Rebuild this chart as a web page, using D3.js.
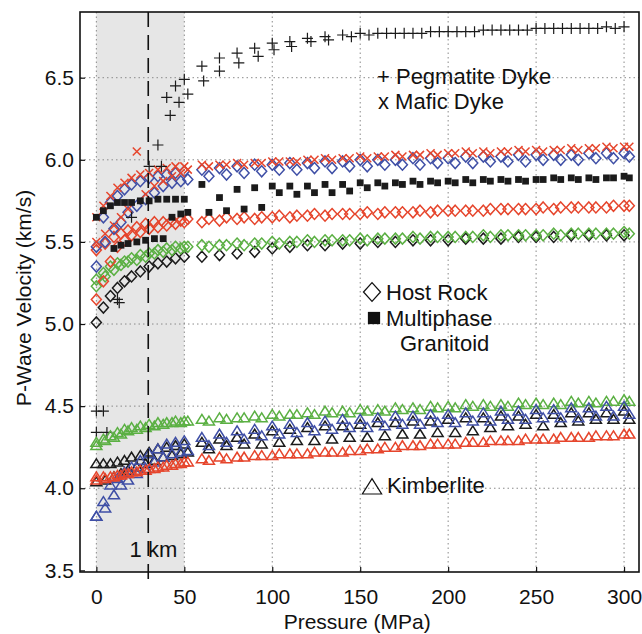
<!DOCTYPE html>
<html>
<head>
<meta charset="utf-8">
<script src="https://cdn.jsdelivr.net/npm/d3@7"></script>
<style>
  body { margin: 0; background: #fff; }
  text { font-family: 'Liberation Sans', Arial, sans-serif; fill: #111; }
</style>
</head>
<body>
<svg></svg>
<script>
'use strict'

// pressure steps (MPa), two slightly offset measurement runs
const pressA = [0, 4, 8, 12, 16, 20, 25, 30, 35, 40, 45, 50, 60, 70, 80, 90, 100, 110, 120, 130, 140, 150, 160, 170, 180, 190, 200, 210, 220, 230, 240, 250, 260, 270, 280, 290, 300]
const pressB = [0, 5, 10, 14, 18, 23, 28, 33, 38, 43, 48, 52, 64, 74, 84, 94, 104, 114, 124, 134, 144, 154, 164, 174, 184, 194, 204, 214, 224, 234, 244, 254, 264, 274, 284, 294, 303]
const pressPegA = [0, 4, 12, 30, 35, 40, 45, 50, 60, 70, 80, 90, 100, 110, 120, 130, 140, 150, 160, 170, 180, 190, 200, 210, 220, 230, 240, 250, 260, 270, 280, 290, 300]
const pressPegB = [0, 6, 13, 20, 37, 42, 47, 52, 61, 70, 81, 92, 101, 111, 122, 132, 145, 155, 165, 175, 185, 195, 205, 215, 225, 235, 245, 255, 265, 275, 285, 295]

// P-wave velocities (km/s)
const hostBlack = [5.01, 5.10, 5.17, 5.22, 5.26, 5.29, 5.32, 5.35, 5.37, 5.38, 5.40, 5.41, 5.41, 5.42, 5.43, 5.44, 5.46, 5.47, 5.48, 5.48, 5.49, 5.49, 5.50, 5.50, 5.51, 5.51, 5.51, 5.52, 5.52, 5.52, 5.53, 5.53, 5.53, 5.54, 5.54, 5.54, 5.54]
const hostGreen1 = [5.27, 5.31, 5.35, 5.37, 5.38, 5.40, 5.42, 5.43, 5.45, 5.46, 5.47, 5.47, 5.48, 5.48, 5.49, 5.49, 5.50, 5.50, 5.51, 5.51, 5.51, 5.52, 5.52, 5.52, 5.53, 5.53, 5.53, 5.53, 5.54, 5.54, 5.54, 5.54, 5.55, 5.55, 5.55, 5.55, 5.56]
const hostGreen2 = [5.23, 5.29, 5.33, 5.36, 5.38, 5.39, 5.41, 5.43, 5.44, 5.45, 5.46, 5.47, 5.47, 5.48, 5.48, 5.49, 5.49, 5.50, 5.50, 5.51, 5.51, 5.51, 5.52, 5.52, 5.52, 5.53, 5.53, 5.53, 5.53, 5.54, 5.54, 5.54, 5.54, 5.55, 5.55, 5.55, 5.55]
const hostRed1 = [5.15, 5.26, 5.38, 5.47, 5.51, 5.54, 5.56, 5.58, 5.59, 5.60, 5.61, 5.62, 5.62, 5.63, 5.64, 5.64, 5.65, 5.65, 5.66, 5.66, 5.67, 5.67, 5.67, 5.68, 5.68, 5.68, 5.69, 5.69, 5.69, 5.70, 5.70, 5.70, 5.70, 5.71, 5.71, 5.71, 5.72]
const hostRed2 = [5.45, 5.49, 5.53, 5.55, 5.57, 5.59, 5.61, 5.62, 5.62, 5.63, 5.63, 5.64, 5.64, 5.65, 5.65, 5.65, 5.66, 5.66, 5.67, 5.67, 5.67, 5.68, 5.68, 5.68, 5.69, 5.69, 5.69, 5.69, 5.70, 5.70, 5.70, 5.71, 5.71, 5.71, 5.71, 5.72, 5.72]
const hostBlue1 = [5.47, 5.65, 5.74, 5.78, 5.82, 5.85, 5.87, 5.89, 5.90, 5.91, 5.92, 5.93, 5.94, 5.95, 5.96, 5.97, 5.97, 5.98, 5.98, 5.99, 5.99, 6.00, 6.00, 6.00, 6.01, 6.01, 6.01, 6.02, 6.02, 6.02, 6.03, 6.03, 6.03, 6.03, 6.04, 6.04, 6.04]
const hostBlue2 = [5.35, 5.50, 5.58, 5.62, 5.68, 5.72, 5.76, 5.80, 5.84, 5.86, 5.87, 5.88, 5.90, 5.91, 5.92, 5.93, 5.94, 5.94, 5.95, 5.95, 5.96, 5.96, 5.97, 5.97, 5.97, 5.98, 5.98, 5.98, 5.99, 5.99, 5.99, 6.00, 6.00, 6.00, 6.01, 6.01, 6.02]
const maficA = [5.65, 5.72, 5.78, 5.83, 5.86, 5.89, 5.91, 5.92, 5.94, 5.95, 5.96, 5.96, 5.97, 5.97, 5.98, 5.98, 5.99, 5.99, 6.00, 6.01, 6.01, 6.02, 6.02, 6.03, 6.03, 6.04, 6.04, 6.05, 6.05, 6.05, 6.06, 6.06, 6.06, 6.07, 6.07, 6.08, 6.08]
const maficB = [5.50, 5.55, 5.60, 5.65, 5.70, 6.05, 5.79, 5.84, 5.87, 5.90, 5.92, 5.94, 5.96, 5.97, 5.97, 5.98, 5.99, 5.99, 6.00, 6.00, 6.01, 6.01, 6.02, 6.02, 6.03, 6.03, 6.04, 6.04, 6.04, 6.05, 6.05, 6.05, 6.06, 6.06, 6.07, 6.07, 6.08]
const granA = [5.65, 5.69, 5.72, 5.74, 5.74, 5.74, 5.75, 5.75, 5.76, 5.76, 5.76, 5.76, 5.85, 5.77, 5.82, 5.83, 5.84, 5.84, 5.84, 5.85, 5.85, 5.86, 5.86, 5.86, 5.87, 5.87, 5.87, 5.88, 5.88, 5.88, 5.88, 5.88, 5.89, 5.89, 5.89, 5.89, 5.90]
const granB = [null, null, 5.46, 5.48, 5.49, 5.50, 5.51, 5.52, 5.52, 5.65, 5.67, 5.68, 5.68, 5.69, 5.70, 5.71, 5.80, 5.79, 5.80, 5.80, 5.81, 5.83, 5.84, 5.85, 5.85, 5.86, 5.86, 5.86, 5.87, 5.87, 5.87, 5.88, 5.88, 5.88, 5.88, 5.89, 5.89]
const pegA = [4.47, 4.47, 5.15, 5.96, 6.09, 6.38, 6.45, 6.49, 6.57, 6.62, 6.65, 6.68, 6.71, 6.72, 6.74, 6.75, 6.76, 6.77, 6.77, 6.77, 6.77, 6.78, 6.78, 6.78, 6.79, 6.79, 6.79, 6.80, 6.80, 6.80, 6.80, 6.81, 6.81]
const pegB = [4.34, 4.34, 5.13, 5.65, 5.96, 6.27, 6.35, 6.40, 6.48, 6.54, 6.59, 6.63, 6.67, 6.69, 6.72, 6.73, 6.75, 6.76, 6.77, 6.77, 6.77, 6.78, 6.78, 6.78, 6.79, 6.79, 6.79, 6.80, 6.80, 6.80, 6.80, 6.80]
const kimGreen1 = [4.28, 4.30, 4.32, 4.34, 4.36, 4.37, 4.38, 4.39, 4.40, 4.40, 4.41, 4.41, 4.42, 4.43, 4.43, 4.44, 4.45, 4.45, 4.46, 4.47, 4.47, 4.48, 4.48, 4.49, 4.49, 4.50, 4.50, 4.51, 4.51, 4.51, 4.52, 4.52, 4.52, 4.53, 4.53, 4.53, 4.54]
const kimGreen2 = [4.26, 4.29, 4.31, 4.33, 4.35, 4.36, 4.37, 4.38, 4.39, 4.40, 4.40, 4.41, 4.41, 4.42, 4.43, 4.43, 4.44, 4.45, 4.45, 4.46, 4.46, 4.47, 4.47, 4.48, 4.48, 4.49, 4.49, 4.50, 4.50, 4.50, 4.51, 4.51, 4.51, 4.52, 4.52, 4.53, 4.53]
const kimBlue1 = [3.83, 3.92, 4.02, 4.06, 4.10, 4.13, 4.17, 4.21, 4.24, 4.27, 4.28, 4.29, 4.31, 4.33, 4.35, 4.36, 4.38, 4.39, 4.40, 4.41, 4.42, 4.42, 4.43, 4.44, 4.44, 4.45, 4.45, 4.46, 4.46, 4.47, 4.47, 4.48, 4.48, 4.49, 4.49, 4.50, 4.50]
const kimBlue2 = [3.83, 3.88, 3.96, 4.02, 4.05, 4.09, 4.12, 4.16, 4.19, 4.21, 4.22, 4.23, 4.26, 4.28, 4.30, 4.32, 4.33, 4.34, 4.35, 4.36, 4.37, 4.37, 4.38, 4.39, 4.39, 4.40, 4.40, 4.41, 4.41, 4.42, 4.42, 4.43, 4.43, 4.43, 4.44, 4.44, 4.45]
const kimBlack1 = [4.15, 4.15, 4.15, 4.16, 4.17, 4.19, 4.20, 4.22, 4.24, 4.25, 4.26, 4.27, 4.28, 4.30, 4.31, 4.33, 4.35, 4.36, 4.37, 4.38, 4.38, 4.39, 4.40, 4.40, 4.41, 4.41, 4.42, 4.43, 4.43, 4.44, 4.44, 4.45, 4.45, 4.46, 4.46, 4.46, 4.47]
const kimBlack2 = [4.04, 4.05, 4.07, 4.09, 4.11, 4.13, 4.15, 4.17, 4.19, 4.20, 4.21, 4.22, 4.24, 4.26, 4.27, 4.27, 4.28, 4.29, 4.29, 4.30, 4.31, 4.31, 4.32, 4.33, 4.33, 4.34, 4.34, 4.35, 4.37, 4.38, 4.39, 4.38, 4.40, 4.41, 4.42, 4.42, 4.42]
const kimRed1 = [4.07, 4.07, 4.07, 4.08, 4.09, 4.10, 4.11, 4.12, 4.13, 4.14, 4.15, 4.16, 4.18, 4.19, 4.19, 4.20, 4.20, 4.21, 4.21, 4.22, 4.22, 4.23, 4.24, 4.25, 4.26, 4.27, 4.27, 4.28, 4.28, 4.29, 4.29, 4.30, 4.30, 4.31, 4.31, 4.32, 4.33]
const kimRed2 = [4.05, 4.06, 4.07, 4.08, 4.09, 4.10, 4.11, 4.12, 4.13, 4.14, 4.15, 4.16, 4.17, 4.18, 4.19, 4.20, 4.21, 4.21, 4.22, 4.22, 4.23, 4.24, 4.25, 4.26, 4.26, 4.27, 4.27, 4.28, 4.29, 4.29, 4.30, 4.30, 4.31, 4.31, 4.32, 4.32, 4.33]

// axes
const xTicks = [0, 50, 100, 150, 200, 250, 300]
const yTicks = [3.5, 4.0, 4.5, 5.0, 5.5, 6.0, 6.5]
const shadedRange = [0, 50]
const depthMark = { pressure: 29.5, label: '1 km' }

const colors = { red: '#e6452c', blue: '#3f4fa6', green: '#5bb043', black: '#1b1b1b' }

const margin = { top: 12, right: 3, bottom: 62, left: 80 }
const width = 642 - margin.left - margin.right,
  height = 634 - margin.top - margin.bottom

const shapes = {
  diamond: 'M0,-5.5L5,0L0,5.5L-5,0Z',
  triangle: 'M0,-4.8L5.5,4L-5.5,4Z',
  square: 'M-3.4,-3.4H3.4V3.4H-3.4Z',
  plus: 'M-5.5,0H5.5M0,-5.5V5.5',
  cross: 'M-4,-4L4,4M-4,4L4,-4'
}

const series = [
  { shape: 'diamond', color: colors.black, p: pressA, v: hostBlack },
  { shape: 'diamond', color: colors.green, p: pressA, v: hostGreen1 },
  { shape: 'diamond', color: colors.green, p: pressB, v: hostGreen2 },
  { shape: 'diamond', color: colors.red, p: pressA, v: hostRed1 },
  { shape: 'diamond', color: colors.red, p: pressB, v: hostRed2 },
  { shape: 'diamond', color: colors.blue, p: pressA, v: hostBlue1 },
  { shape: 'diamond', color: colors.blue, p: pressB, v: hostBlue2 },
  { shape: 'cross', color: colors.red, p: pressA, v: maficA },
  { shape: 'cross', color: colors.red, p: pressB, v: maficB },
  { shape: 'square', color: colors.black, p: pressA, v: granA },
  { shape: 'square', color: colors.black, p: pressB, v: granB },
  { shape: 'plus', color: colors.black, p: pressPegA, v: pegA },
  { shape: 'plus', color: colors.black, p: pressPegB, v: pegB },
  { shape: 'triangle', color: colors.green, p: pressA, v: kimGreen1 },
  { shape: 'triangle', color: colors.green, p: pressB, v: kimGreen2 },
  { shape: 'triangle', color: colors.black, p: pressA, v: kimBlack1 },
  { shape: 'triangle', color: colors.black, p: pressB, v: kimBlack2 },
  { shape: 'triangle', color: colors.blue, p: pressA, v: kimBlue1 },
  { shape: 'triangle', color: colors.blue, p: pressB, v: kimBlue2 },
  { shape: 'triangle', color: colors.red, p: pressA, v: kimRed1 },
  { shape: 'triangle', color: colors.red, p: pressB, v: kimRed2 }
]

const svg = d3.select('svg')
  .attr('width', 642)
  .attr('height', 634)

const g = svg.append('g')
  .attr('transform', 'translate(' + margin.left + ',' + margin.top + ')')

const x = d3.scaleLinear().domain([-9.3, 308.5]).range([0, width])
const y = d3.scaleLinear().domain([3.49, 6.9]).range([height, 0])

// shaded shallow zone
g.append('rect')
  .attr('x', x(shadedRange[0]))
  .attr('y', 0)
  .attr('width', x(shadedRange[1]) - x(shadedRange[0]))
  .attr('height', height)
  .style('fill', '#e6e6e6')

// dotted grid
g.append('g')
  .selectAll('line')
  .data(xTicks)
  .enter()
  .append('line')
  .attr('x1', d => x(d)).attr('x2', d => x(d))
  .attr('y1', 0).attr('y2', height)
  .style('stroke', '#8a8a8a')
  .style('stroke-width', 1)
  .style('stroke-dasharray', '1.5,3')

g.append('g')
  .selectAll('line')
  .data(yTicks.filter(d => d > 3.5))
  .enter()
  .append('line')
  .attr('x1', 0).attr('x2', width)
  .attr('y1', d => y(d)).attr('y2', d => y(d))
  .style('stroke', '#8a8a8a')
  .style('stroke-width', 1)
  .style('stroke-dasharray', '1.5,3')

// data points
series.forEach(s => {
  const pts = s.v.map((v, i) => ({ p: s.p[i], v: v })).filter(d => d.v !== null)
  g.append('g')
    .selectAll('path')
    .data(pts)
    .enter()
    .append('path')
    .attr('transform', d => 'translate(' + x(d.p) + ',' + y(d.v) + ')')
    .attr('d', shapes[s.shape])
    .style('fill', s.shape === 'square' ? s.color : 'none')
    .style('stroke', s.shape === 'square' ? 'none' : s.color)
    .style('stroke-width', s.shape === 'plus' ? 1.2 : 1.5)
})

// 1 km depth line
g.append('line')
  .attr('x1', x(depthMark.pressure)).attr('x2', x(depthMark.pressure))
  .attr('y1', 0).attr('y2', height + 10)
  .style('stroke', '#111')
  .style('stroke-width', 1.6)
  .style('stroke-dasharray', '15,8')

g.append('text')
  .attr('x', x(depthMark.pressure) + 29)
  .attr('y', height - 15)
  .attr('text-anchor', 'end')
  .style('font-size', '22px')
  .text(depthMark.label)

// axes
const xAxis = g.append('g')
  .attr('transform', 'translate(0,' + height + ')')
  .call(d3.axisBottom(x).tickValues(xTicks).tickSize(-5).tickPadding(17))
const yAxis = g.append('g')
  .call(d3.axisLeft(y).tickValues(yTicks).tickSize(-5).tickPadding(6).tickFormat(d3.format('.1f')))

;[xAxis, yAxis].forEach(a => {
  a.select('.domain').remove()
  a.selectAll('.tick line').style('stroke', '#111').style('stroke-width', 1.2)
  a.selectAll('.tick text')
    .style('font-size', '21px')
    .style('font-family', "'Liberation Sans', Arial, sans-serif")
    .style('fill', '#111')
})

// frame
g.append('rect')
  .attr('width', width)
  .attr('height', height)
  .style('fill', 'none')
  .style('stroke', '#111')
  .style('stroke-width', 1.6)

// axis titles
svg.append('text')
  .attr('x', margin.left + x(150) - 3)
  .attr('y', 629)
  .attr('text-anchor', 'middle')
  .style('font-size', '21px')
  .text('Pressure (MPa)')

svg.append('text')
  .attr('transform', 'translate(31,298) rotate(-90)')
  .attr('text-anchor', 'middle')
  .style('font-size', '21px')
  .text('P-Wave Velocity (km/s)')

// legend
const legend = svg.append('g')

legend.append('text').attr('x', 377).attr('y', 84).style('font-size', '22px').text('+ Pegmatite Dyke')
legend.append('text').attr('x', 378).attr('y', 109).style('font-size', '22px').text('x Mafic Dyke')

legend.append('path')
  .attr('transform', 'translate(372,292) scale(1.7)')
  .attr('d', shapes.diamond)
  .style('fill', 'none').style('stroke', '#111').style('stroke-width', 0.75)
legend.append('text').attr('x', 386).attr('y', 300).style('font-size', '22px').text('Host Rock')

legend.append('path')
  .attr('transform', 'translate(374,318) scale(1.8)')
  .attr('d', shapes.square)
  .style('fill', '#111')
legend.append('text').attr('x', 386).attr('y', 326).style('font-size', '22px').text('Multiphase')
legend.append('text').attr('x', 400).attr('y', 351).style('font-size', '22px').text('Granitoid')

legend.append('path')
  .attr('transform', 'translate(372,487) scale(1.75)')
  .attr('d', shapes.triangle)
  .style('fill', 'none').style('stroke', '#111').style('stroke-width', 0.7)
legend.append('text').attr('x', 387).attr('y', 493).style('font-size', '22px').text('Kimberlite')
</script>
</body>
</html>
